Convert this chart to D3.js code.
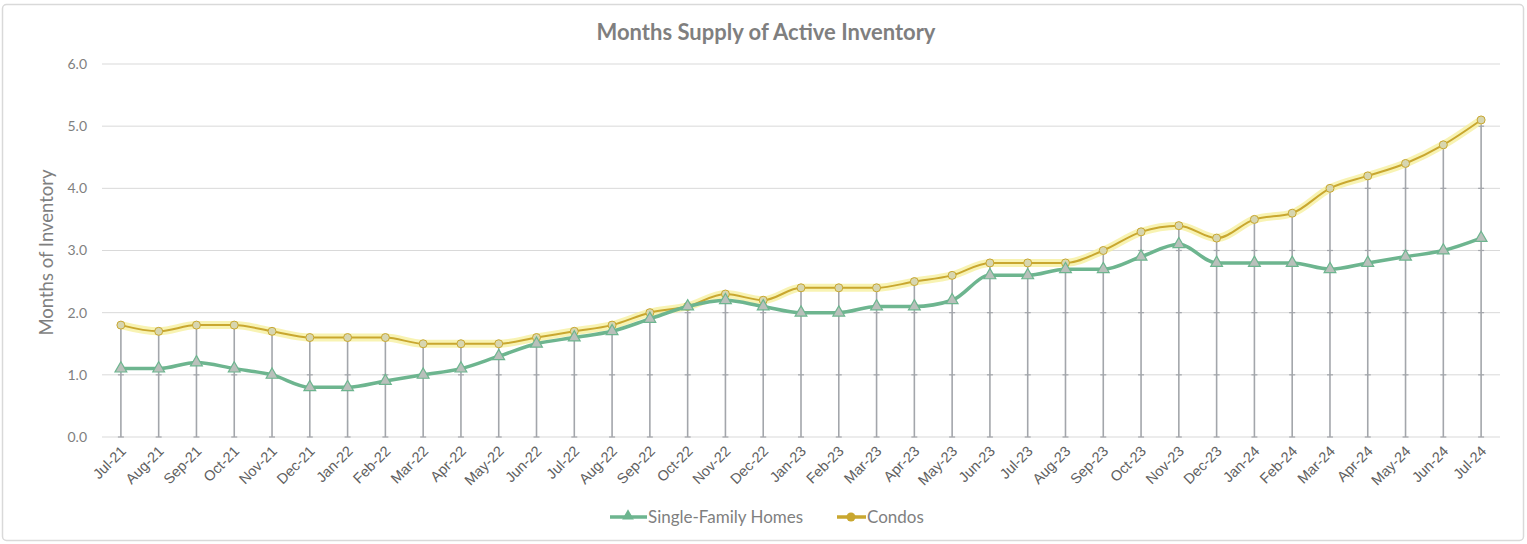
<!DOCTYPE html>
<html>
<head>
<meta charset="utf-8">
<script src="https://cdn.jsdelivr.net/npm/d3@7"></script>
<style>
  body { margin: 0; background: #fff; }
  svg { display: block; }
</style>
</head>
<body>
<script>
var months = ["Jul-21","Aug-21","Sep-21","Oct-21","Nov-21","Dec-21","Jan-22","Feb-22","Mar-22","Apr-22","May-22","Jun-22",
  "Jul-22","Aug-22","Sep-22","Oct-22","Nov-22","Dec-22","Jan-23","Feb-23","Mar-23","Apr-23","May-23","Jun-23",
  "Jul-23","Aug-23","Sep-23","Oct-23","Nov-23","Dec-23","Jan-24","Feb-24","Mar-24","Apr-24","May-24","Jun-24","Jul-24"];
var singleFamily = [1.1,1.1,1.2,1.1,1.0,0.8,0.8,0.9,1.0,1.1,1.3,1.5,1.6,1.7,1.9,2.1,2.2,2.1,2.0,2.0,2.1,2.1,2.2,2.6,
  2.6,2.7,2.7,2.9,3.1,2.8,2.8,2.8,2.7,2.8,2.9,3.0,3.2];
var condos = [1.8,1.7,1.8,1.8,1.7,1.6,1.6,1.6,1.5,1.5,1.5,1.6,1.7,1.8,2.0,2.1,2.3,2.2,2.4,2.4,2.4,2.5,2.6,2.8,
  2.8,2.8,3.0,3.3,3.4,3.2,3.5,3.6,4.0,4.2,4.4,4.7,5.1];
var yTicks = [0,1,2,3,4,5,6];

var W = 1527, H = 544;
var m = { left: 102, right: 27, top: 64, bottom: 107 };
var font = "Lato, 'Open Sans', sans-serif";

var svg = d3.select("body").append("svg").attr("width", W).attr("height", H);

svg.append("rect").attr("x", 2.5).attr("y", 4.5).attr("width", W - 6).attr("height", H - 8)
  .attr("rx", 4).attr("fill", "#fff").attr("stroke", "#d9d9d9").attr("stroke-width", 1.5);

var x = d3.scaleBand().domain(months).range([m.left, W - m.right]);
var y = d3.scaleLinear().domain([0, 6]).range([H - m.bottom, m.top]);
var cx = function (d) { return x(d) + x.bandwidth() / 2; };

// gridlines
svg.append("g").selectAll("line").data(yTicks).enter().append("line")
  .attr("x1", m.left).attr("x2", W - m.right)
  .attr("y1", function (d) { return y(d); }).attr("y2", function (d) { return y(d); })
  .attr("stroke", "#d9d9d9").attr("stroke-width", 1);

// y tick labels
svg.append("g").selectAll("text").data(yTicks).enter().append("text")
  .attr("x", 87).attr("y", function (d) { return y(d); }).attr("dy", "0.35em")
  .attr("text-anchor", "end").attr("font-family", font)
  .attr("font-size", 14).attr("fill", "#7f7f7f")
  .text(function (d) { return d3.format(".1f")(d); });

svg.append("text").attr("transform", "translate(53," + (y(3) + 2) + ") rotate(-90)")
  .attr("text-anchor", "middle").attr("font-family", font)
  .attr("font-size", 18.5).attr("fill", "#7f7f7f").text("Months of Inventory");

// drop lines
var drops = svg.append("g");
months.forEach(function (mo, i) {
  var top = Math.max(singleFamily[i], condos[i]);
  drops.append("line").attr("x1", cx(mo)).attr("x2", cx(mo))
    .attr("y1", y(0)).attr("y2", y(top))
    .attr("stroke", "#a3a6ab").attr("stroke-width", 1.6);
  yTicks.forEach(function (t) {
    if (t <= top) {
      drops.append("line").attr("x1", cx(mo) - 3).attr("x2", cx(mo) + 3)
        .attr("y1", y(t)).attr("y2", y(t)).attr("stroke", "#a3a6ab").attr("stroke-width", 1.2);
    }
  });
});

// x labels
svg.append("g").selectAll("text").data(months).enter().append("text")
  .attr("transform", function (d) { return "translate(" + (cx(d) + 6) + "," + (y(0) + 15) + ") rotate(-45)"; })
  .attr("text-anchor", "end").attr("font-family", "'Liberation Sans', Arial, sans-serif")
  .attr("font-size", 14.5).attr("fill", "#606060").text(function (d) { return d; });

var line = d3.line().x(function (d) { return cx(d[0]); }).y(function (d) { return y(d[1]); })
  .curve(d3.curveMonotoneX);

var condoPts = months.map(function (mo, i) { return [mo, condos[i]]; });
var sfPts = months.map(function (mo, i) { return [mo, singleFamily[i]]; });

// condos glow + line
svg.append("path").datum(condoPts).attr("d", line).attr("fill", "none")
  .attr("stroke", "#f6ef9a").attr("stroke-width", 8).attr("stroke-opacity", 0.75);
svg.append("path").datum(condoPts).attr("d", line).attr("fill", "none")
  .attr("stroke", "#c9a72f").attr("stroke-width", 2);
svg.append("g").selectAll("circle").data(condoPts).enter().append("circle")
  .attr("cx", function (d) { return cx(d[0]); }).attr("cy", function (d) { return y(d[1]); })
  .attr("r", 4).attr("fill", "#d7d6b0").attr("stroke", "#c9a72f").attr("stroke-width", 1);

// single family line
svg.append("path").datum(sfPts).attr("d", line).attr("fill", "none")
  .attr("stroke", "#6db58f").attr("stroke-width", 3.5);
var tri = d3.symbol().type(d3.symbolTriangle).size(60);
svg.append("g").selectAll("path").data(sfPts).enter().append("path")
  .attr("transform", function (d) { return "translate(" + cx(d[0]) + "," + y(d[1]) + ")"; })
  .attr("d", tri).attr("fill", "#b9c0bb").attr("stroke", "#6db58f").attr("stroke-width", 1.2);

// title
svg.append("text").attr("x", 766).attr("y", 40).attr("text-anchor", "middle")
  .attr("font-family", font).attr("font-weight", "bold")
  .attr("font-size", 22).attr("fill", "#7f7f7f").text("Months Supply of Active Inventory");

// legend
var lg = svg.append("g").attr("transform", "translate(0,517)");
lg.append("line").attr("x1", 610).attr("x2", 647).attr("y1", 0).attr("y2", 0)
  .attr("stroke", "#6db58f").attr("stroke-width", 3.5);
lg.append("path").attr("transform", "translate(628,-1)").attr("d", tri).attr("fill", "#6db58f");
lg.append("text").attr("x", 648).attr("y", 0).attr("dy", "0.35em")
  .attr("font-family", font).attr("font-size", 17).attr("fill", "#7f7f7f")
  .text("Single-Family Homes");
lg.append("line").attr("x1", 837).attr("x2", 866).attr("y1", 0).attr("y2", 0)
  .attr("stroke", "#c9a72f").attr("stroke-width", 3.5);
lg.append("circle").attr("cx", 851).attr("cy", 0).attr("r", 4.5).attr("fill", "#c9a72f");
lg.append("text").attr("x", 867).attr("y", 0).attr("dy", "0.35em")
  .attr("font-family", font).attr("font-size", 17).attr("fill", "#7f7f7f")
  .text("Condos");
</script>
</body>
</html>
